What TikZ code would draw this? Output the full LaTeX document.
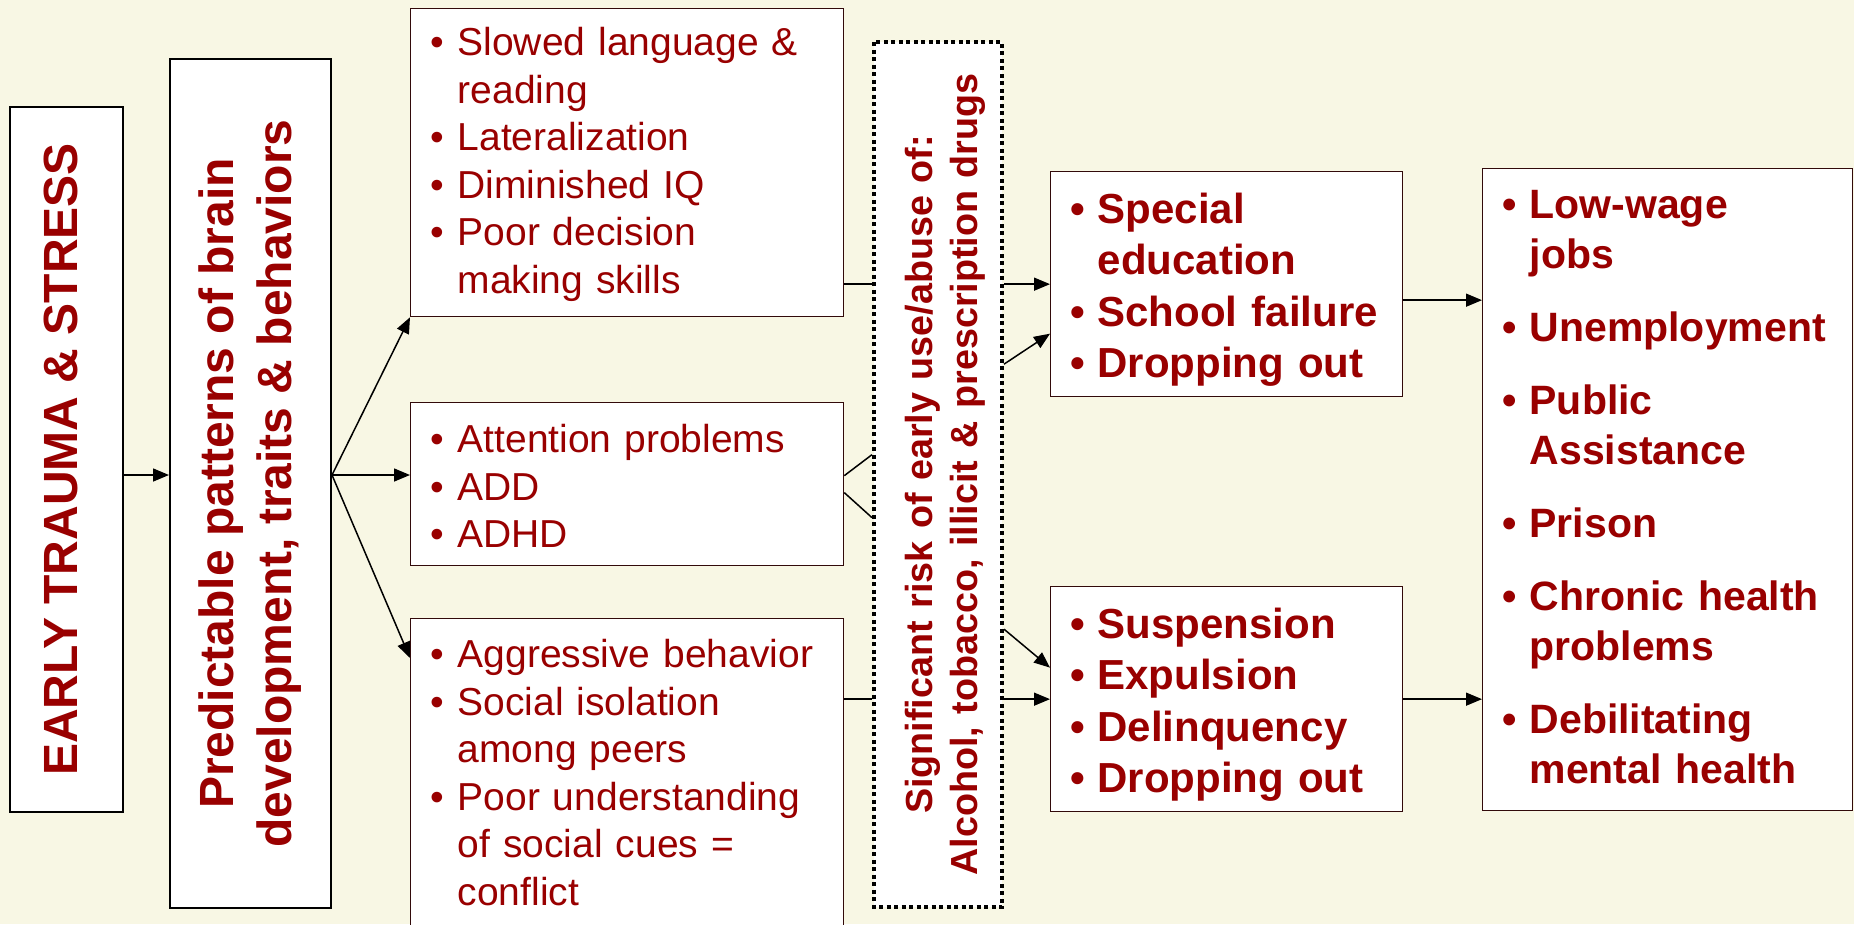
\documentclass[tikz,border=0pt]{standalone}
\usepackage{fontspec}
\setmainfont{Liberation Sans}
\usetikzlibrary{calc, arrows.meta}

\definecolor{cream}{RGB}{248,247,228}
\definecolor{textred}{RGB}{153,0,0}
\definecolor{boxline}{RGB}{50,10,10}

% bullet with hanging indent
\newcommand{\bul}{\makebox[27pt][l]{\textbullet}}
\newcommand{\nobul}{\phantom{\bul}}

\begin{document}
\begin{tikzpicture}[x=1pt, y=-1pt,
	mainbox/.style={draw=black, line width=2pt, fill=white, text=textred,
		rotate=90, inner sep=0pt, align=center,
		font=\fontsize{48}{58}\selectfont\bfseries},
	listbox/.style={draw=boxline, line width=1.3pt, fill=white, text=textred,
		anchor=north west, inner xsep=20pt, inner ysep=0pt, align=left},
	plainlist/.style={font=\fontsize{39}{47.5}\selectfont, text width=393pt},
	boldlist/.style={font=\fontsize{42}{51.3}\selectfont\bfseries, text width=312pt},
	arr/.style={line width=1.5pt, -{Triangle[length=16pt, width=13pt]}},
	link/.style={line width=1.5pt}]

	% --- background
	\fill[cream] (0,0) rectangle (1854,924);
	\useasboundingbox (0,0) rectangle (1854,924);
	\clip (0,0) rectangle (1854,924);

	% --- left column
	\node[mainbox, minimum width=705pt, minimum height=113pt, text depth=11pt]
		(trauma) at (66.5,459.5) {EARLY TRAUMA \& STRESS};
	\node[mainbox, minimum width=849pt, minimum height=161pt]
		(brain) at (250.5,483.5) {Predictable patterns of brain\\development, traits \& behaviors};

	% --- effects on the child
	\node[listbox, plainlist, text height=47pt, text depth=261pt] (slow) at (410,8)
		{\bul Slowed language \&\\ \nobul reading\\ \bul Lateralization\\
		 \bul Diminished IQ\\ \bul Poor decision\\ \nobul making skills};
	\node[listbox, plainlist, text height=50pt, text depth=113pt] (attn) at (410,402)
		{\bul Attention problems\\ \bul ADD\\ \bul ADHD};
	\node[listbox, plainlist, text height=49pt, text depth=273pt] (social) at (410,618)
		{\bul Aggressive behavior\\ \bul Social isolation\\ \nobul among peers\\
		 \bul Poor understanding\\ \nobul of social cues =\\ \nobul conflict};

	% --- risk of drug use (dotted)
	\node[draw, fill=white, text=textred, rotate=90, line width=4pt,
		dash pattern=on 4pt off 3.5pt, inner sep=0pt, align=center,
		minimum width=865pt, minimum height=128pt,
		text width=840pt, text height=41pt, text depth=53pt,
		font=\fontsize{37.7}{45}\selectfont\bfseries]
		(drugs) at (938,474.5) {Significant risk of early use/abuse of:\\Alcohol, tobacco, illicit \& prescription drugs};

	% --- school and conduct
	\node[listbox, boldlist, text height=52pt, text depth=173pt] (school) at (1050,171)
		{\bul Special\\ \nobul education\\ \bul School failure\\ \bul Dropping out};
	\node[listbox, boldlist, text height=52pt, text depth=173pt] (conduct) at (1050,586)
		{\bul Suspension\\ \bul Expulsion\\ \bul Delinquency\\ \bul Dropping out};

	% --- adult outcomes
	\node[listbox, font=\fontsize{41}{50}\selectfont\bfseries, text width=330pt,
		text height=50pt, text depth=592pt] (adult) at (1482,168)
		{\bul Low-wage\\ \nobul jobs\\[23pt] \bul Unemployment\\[23pt]
		 \bul Public\\ \nobul Assistance\\[23pt] \bul Prison\\[23pt]
		 \bul Chronic health\\ \nobul problems\\[23pt]
		 \bul Debilitating\\ \nobul mental health};

	% --- connectors
	\coordinate (hub) at ($(brain.south)+(0,-8.5)$);
	\draw[arr] (trauma.south |- hub) -- (brain.north |- hub);

	\coordinate (t1) at (slow.south west);
	\coordinate (t2) at (attn.west |- hub);
	\coordinate (t3) at ($(social.north west)+(0,40)$);
	\foreach \t in {t1,t2,t3}
		\draw[arr] (hub) -- (\t);

	% lines into the dotted box
	\draw[link] (slow.east |- school.west) -- (drugs.north |- school.west);
	\draw[link] ($(attn.east)+(0,-8.5)$) -- ($(attn.east -| drugs.north)+(0,-29.5)$);
	\draw[link] ($(attn.east)+(0,8.5)$) -- ($(attn.east -| drugs.north)+(0,33.5)$);
	\draw[link] (social.east |- conduct.west) -- (drugs.north |- conduct.west);

	% arrows out of the dotted box
	\draw[arr] (drugs.south |- school.west) -- (school.west);
	\draw[arr] ($(drugs.south |- school.west)+(0,80)$) -- ($(school.west)+(0,49.5)$);
	\draw[arr] ($(drugs.south |- conduct.west)+(0,-70)$) -- ($(conduct.west)+(0,-31.5)$);
	\draw[arr] (drugs.south |- conduct.west) -- (conduct.west);

	% to adult outcomes
	\draw[arr] ($(school.east)+(0,16)$) -- ($(school.east -| adult.west)+(0,16)$);
	\draw[arr] (conduct.east) -- (conduct.east -| adult.west);

\end{tikzpicture}
\end{document}
